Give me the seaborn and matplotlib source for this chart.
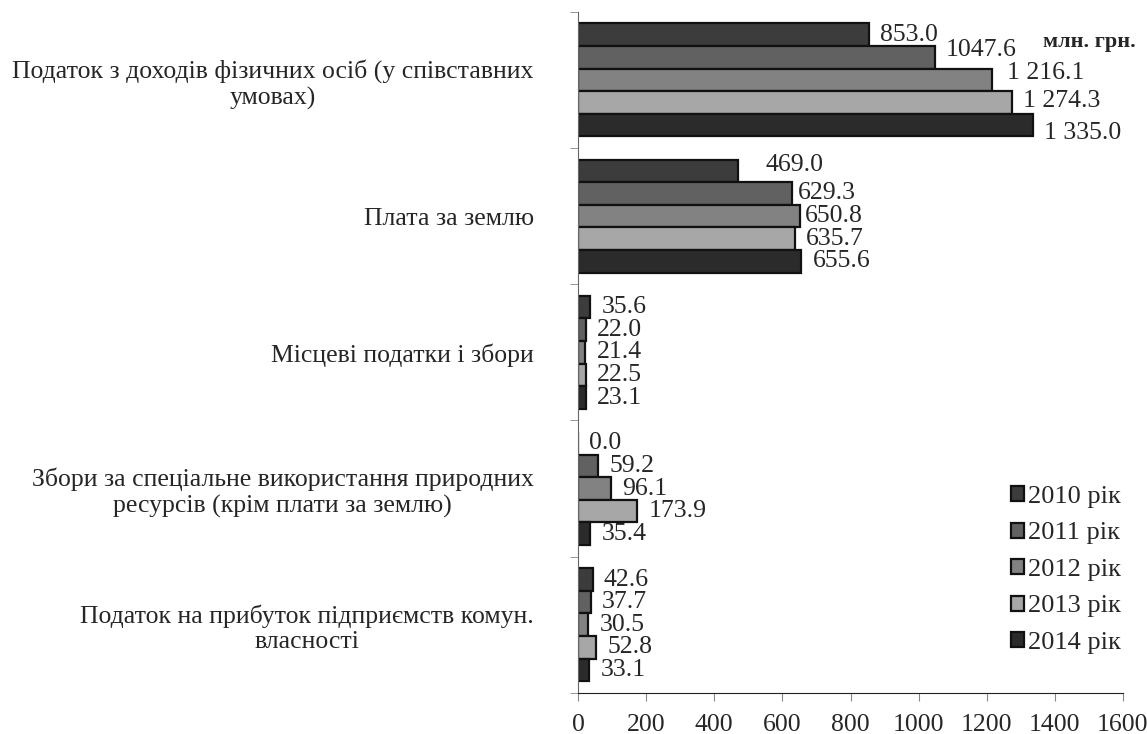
import matplotlib
matplotlib.use('Agg')
import matplotlib.pyplot as plt
import matplotlib.ticker as mticker
import seaborn as sns
import pandas as pd
import numpy as np

categories = [
    'Податок з доходів фізичних осіб (у співставних\nумовах)',
    'Плата за землю',
    'Місцеві податки і збори',
    'Збори за спеціальне використання природних\nресурсів (крім плати за землю)',
    'Податок на прибуток підприємств комун.\nвласності',
]
years = ['2010 рік', '2011 рік', '2012 рік', '2013 рік', '2014 рік']
values = {
    '2010 рік': [853.0, 469.0, 35.6, 0.0, 42.6],
    '2011 рік': [1047.6, 629.3, 22.0, 59.2, 37.7],
    '2012 рік': [1216.1, 650.8, 21.4, 96.1, 30.5],
    '2013 рік': [1274.3, 635.7, 22.5, 173.9, 52.8],
    '2014 рік': [1335.0, 655.6, 23.1, 35.4, 33.1],
}
label_text = {
    '2010 рік': ['853.0', '469.0', '35.6', '0.0', '42.6'],
    '2011 рік': ['1047.6', '629.3', '22.0', '59.2', '37.7'],
    '2012 рік': ['1 216.1', '650.8', '21.4', '96.1', '30.5'],
    '2013 рік': ['1 274.3', '635.7', '22.5', '173.9', '52.8'],
    '2014 рік': ['1 335.0', '655.6', '23.1', '35.4', '33.1'],
}
colors = ['#3c3c3c', '#616161', '#828282', '#a7a7a7', '#2b2b2b']

# hand nudges of some data labels (dx, dy in points), like the original
nudge = {
    ('2011 рік', 0): (0, 5), ('2012 рік', 0): (3, 5), ('2013 рік', 0): (0, 1),
    ('2014 рік', 0): (0, -6), ('2010 рік', 1): (12, 4), ('2011 рік', 1): (-4, 0),
    ('2012 рік', 1): (-4, 0),
}

rows = []
for y in years:
    for c, v in zip(categories, values[y]):
        rows.append({'category': c, 'year': y, 'value': v})
df = pd.DataFrame(rows)

sns.set_style('white')
plt.rcParams['font.family'] = ['Liberation Serif', 'DejaVu Serif']

fig = plt.figure(figsize=(11.47, 7.34), dpi=100)
ax = fig.add_axes([0.504, 0.056, 0.475, 0.928])

sns.barplot(data=df, y='category', x='value', hue='year', orient='h',
            palette=colors, width=0.83, gap=0, edgecolor='#111111',
            linewidth=1.6, ax=ax, order=categories, hue_order=years)

for y, cont in zip(years, ax.containers):
    for ci, patch in enumerate(cont.patches):
        xend = patch.get_x() + patch.get_width()
        ymid = patch.get_y() + patch.get_height() / 2
        dx, dy = nudge.get((y, ci), (0, 0))
        ax.annotate(label_text[y][ci], (xend, ymid), xytext=(8 + dx, dy),
                    textcoords='offset points', ha='left', va='center', fontsize=18.5)

ax.text(1365, -0.28, 'млн. грн.', fontsize=16, fontweight='bold', ha='left', va='center')

ax.set_xlim(0, 1600)
ax.set_ylim(4.5, -0.5)
ax.xaxis.set_major_locator(mticker.MultipleLocator(200))
ax.set_yticks(np.arange(-0.5, 5, 1), minor=True)
ax.tick_params(axis='y', which='major', length=0, labelsize=18.5, pad=32)
ax.tick_params(axis='y', which='minor', length=6, color='#888888', direction='out', left=True)
ax.tick_params(axis='x', length=6, color='#888888', direction='out', bottom=True, labelsize=18.5, pad=9)
for lab in ax.get_yticklabels():
    lab.set_multialignment('center')
ax.set_xlabel('')
ax.set_ylabel('')
sns.despine(ax=ax, top=True, right=True)
ax.spines['left'].set_color('#666666')
ax.spines['bottom'].set_color('#222222')

ax.legend(loc='lower right', bbox_to_anchor=(1.03, 0.03), frameon=False, fontsize=19,
          handlelength=0.5, handleheight=0.5, handletextpad=0.15, labelspacing=0.55,
          borderpad=0.2)

fig.savefig('out.png', dpi=100)
